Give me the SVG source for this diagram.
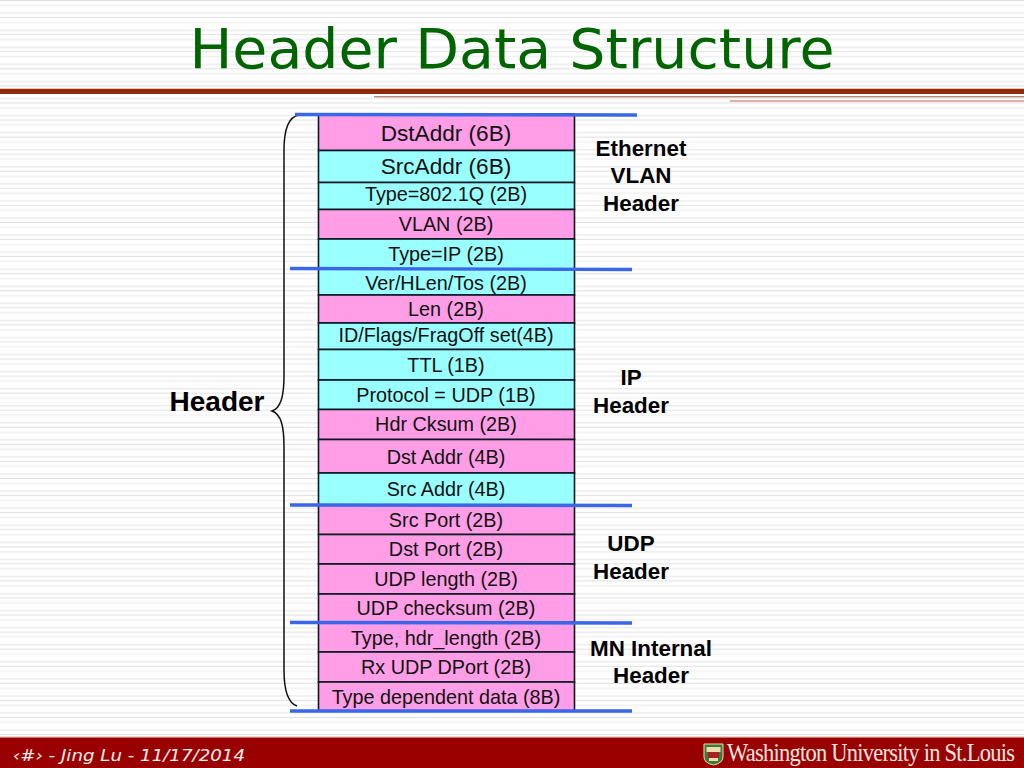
<svg xmlns="http://www.w3.org/2000/svg" width="1024" height="768" viewBox="0 0 1024 768">
<style>
.cell{stroke:#0a1a24;stroke-width:1.6}
.p{fill:#ff9ee6}
.c{fill:#99ffff}
.t{font-family:"Liberation Sans",Arial,sans-serif;font-size:19.8px;fill:#111;text-anchor:middle}
.big{font-size:22.6px}
.l{font-family:"Liberation Sans",Arial,sans-serif;font-size:22.4px;font-weight:bold;fill:#000;text-anchor:middle}
.b{stroke:#3a66e8;stroke-width:3.4;fill:none}
</style>
<defs>
<pattern id="stripes" width="1024" height="17.07" patternUnits="userSpaceOnUse" y="12.4">
<rect width="1024" height="17.07" fill="#fff"/>
<rect y="0" width="1024" height="1.4" fill="#ebebeb"/>
<rect y="4.7" width="1024" height="1" fill="#e0e0e0"/>
<rect y="9.3" width="1024" height="1.6" fill="#f1f1f1"/>
</pattern>
</defs>
<rect id="background" width="1024" height="768" fill="url(#stripes)"/>
<text id="title" x="512" y="68" font-family="'DejaVu Sans',Verdana,sans-serif" font-size="56" fill="#006400" text-anchor="middle" textLength="645" lengthAdjust="spacingAndGlyphs">Header Data Structure</text>
<g id="rules">
<rect x="0" y="88" width="1024" height="1" fill="#f7c4b4"/>
<rect x="0" y="89" width="1024" height="5" fill="#8f2a0a"/>
<rect x="374" y="96" width="650" height="1.500" fill="#b58a80"/>
<rect x="730" y="100" width="294" height="2" fill="#e0b0a8"/>
</g>
<g id="brace"><path d="M299 115 C288 117 284 130 284 150 L284 375 C284 396 281 408 272 411 C281 414 284 426 284 447 L284 670 C284 690 288 703 297 706" fill="none" stroke="#111" stroke-width="1.5"/></g>
<g id="n1"><rect class="cell p" x="318.5" y="114" width="256" height="36.5"/><text class="t big" x="446" y="141">DstAddr (6B)</text></g>
<g id="n2"><rect class="cell c" x="318.5" y="150.5" width="256" height="32"/><text class="t big" x="446" y="174">SrcAddr (6B)</text></g>
<g id="n3"><rect class="cell c" x="318.5" y="182.5" width="256" height="27"/><text class="t" x="446" y="201">Type=802.1Q (2B)</text></g>
<g id="n4"><rect class="cell p" x="318.5" y="209.5" width="256" height="29.5"/><text class="t" x="446" y="231">VLAN (2B)</text></g>
<g id="n5"><rect class="cell c" x="318.5" y="239" width="256" height="30"/><text class="t" x="446" y="261">Type=IP (2B)</text></g>
<g id="n6"><rect class="cell c" x="318.5" y="269" width="256" height="26"/><text class="t" x="446" y="290">Ver/HLen/Tos (2B)</text></g>
<g id="n7"><rect class="cell p" x="318.5" y="295" width="256" height="28"/><text class="t" x="446" y="316">Len (2B)</text></g>
<g id="n8"><rect class="cell c" x="318.5" y="323" width="256" height="26.5"/><text class="t" x="446" y="342">ID/Flags/FragOff set(4B)</text></g>
<g id="n9"><rect class="cell c" x="318.5" y="349.5" width="256" height="30.5"/><text class="t" x="446" y="372">TTL (1B)</text></g>
<g id="n10"><rect class="cell c" x="318.5" y="380" width="256" height="29.5"/><text class="t" x="446" y="402">Protocol = UDP (1B)</text></g>
<g id="n11"><rect class="cell p" x="318.5" y="409.5" width="256" height="30"/><text class="t" x="446" y="431">Hdr Cksum (2B)</text></g>
<g id="n12"><rect class="cell p" x="318.5" y="439.5" width="256" height="33.5"/><text class="t" x="446" y="464">Dst Addr (4B)</text></g>
<g id="n13"><rect class="cell c" x="318.5" y="473" width="256" height="32"/><text class="t" x="446" y="496">Src Addr (4B)</text></g>
<g id="n14"><rect class="cell p" x="318.5" y="505" width="256" height="29.5"/><text class="t" x="446" y="527">Src Port (2B)</text></g>
<g id="n15"><rect class="cell p" x="318.5" y="534.5" width="256" height="29.5"/><text class="t" x="446" y="556">Dst Port (2B)</text></g>
<g id="n16"><rect class="cell p" x="318.5" y="564" width="256" height="30"/><text class="t" x="446" y="586">UDP length (2B)</text></g>
<g id="n17"><rect class="cell p" x="318.5" y="594" width="256" height="28.5"/><text class="t" x="446" y="615">UDP checksum (2B)</text></g>
<g id="n18"><rect class="cell p" x="318.5" y="622.5" width="256" height="29.5"/><text class="t" x="446" y="645">Type, hdr_length (2B)</text></g>
<g id="n19"><rect class="cell p" x="318.5" y="652" width="256" height="30"/><text class="t" x="446" y="674">Rx UDP DPort (2B)</text></g>
<g id="n20"><rect class="cell p" x="318.5" y="682" width="256" height="29"/><text class="t" x="446" y="704">Type dependent data (8B)</text></g>
<g id="connectors">
<line class="b" x1="295" y1="114.500" x2="637" y2="115"/>
<line class="b" x1="290" y1="268.500" x2="632" y2="269.500"/>
<line class="b" x1="290" y1="505" x2="632" y2="505.500"/>
<line class="b" x1="290" y1="622.500" x2="632" y2="623"/>
<line class="b" x1="290" y1="711" x2="632" y2="711"/>
</g>
<g id="labels">
<text class="l" x="641" y="156">Ethernet</text>
<text class="l" x="641" y="183">VLAN</text>
<text class="l" x="641" y="211">Header</text>
<text class="l" x="631" y="385">IP</text>
<text class="l" x="631" y="413">Header</text>
<text class="l" x="631" y="551">UDP</text>
<text class="l" x="631" y="579">Header</text>
<text class="l" x="651" y="656">MN Internal</text>
<text class="l" x="651" y="683">Header</text>
<text class="l" x="217" y="411" style="font-size:28px">Header</text>
</g>
<g id="footer">
<rect x="0" y="736" width="1024" height="1.500" fill="#f3d5d0"/>
<rect x="0" y="737.500" width="1024" height="30.500" fill="#990000"/>
<text x="13" y="761" font-family="'DejaVu Sans',Verdana,sans-serif" font-size="15" font-style="italic" fill="#fbeeee" textLength="232" lengthAdjust="spacingAndGlyphs">‹#› - Jing Lu - 11/17/2014</text>
<g id="shield"><path d="M704 744 H723 V757 Q723 763 713.500 765 Q704 763 704 757Z" fill="#3f7a3a" stroke="#e8e0b0" stroke-width="1"/><rect x="706.500" y="747" width="14" height="5" fill="#e8dcb0"/><rect x="708" y="752" width="11" height="6" fill="#a82020"/><rect x="709" y="758" width="9" height="3" fill="#e8dcb0"/></g>
<text transform="translate(727 761) scale(1 1.15)" font-family="'Liberation Serif','Times New Roman',serif" font-size="22.500" fill="#f6e6e0" textLength="288" lengthAdjust="spacing">Washington University in St.Louis</text>
</g>
</svg>
